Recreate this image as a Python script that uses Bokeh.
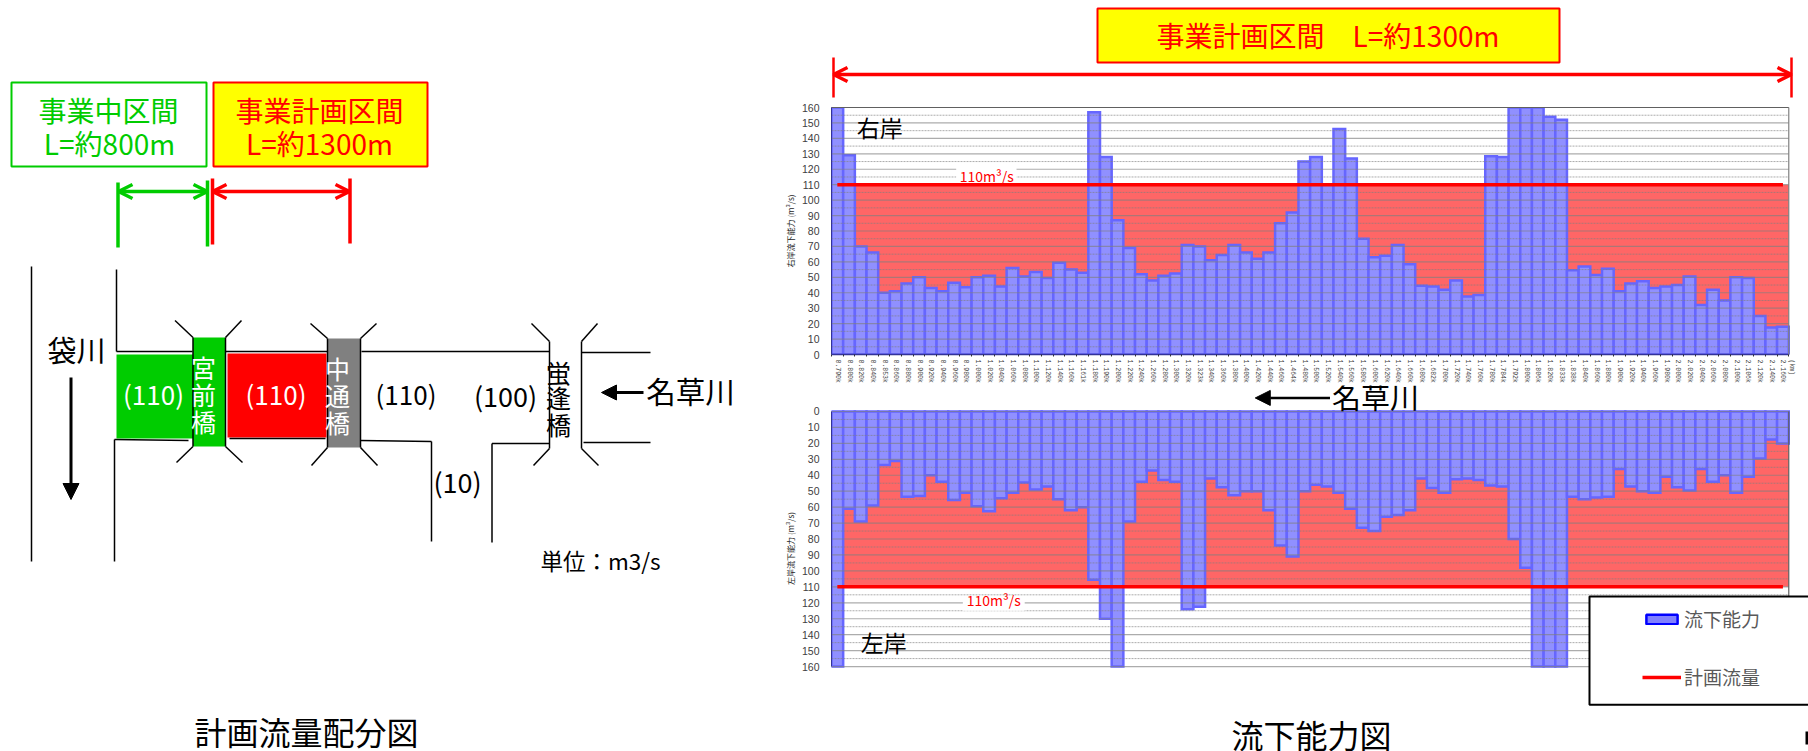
from bokeh.plotting import figure
from bokeh.layouts import row, column
from bokeh.models import (Range1d, FixedTicker, Label, Arrow, OpenHead, NormalHead,
                          BoxAnnotation, Legend, LegendItem)
from bokeh.core.properties import value
from bokeh.embed import file_html
from bokeh.resources import INLINE

# ---------- data ----------
km_labels = ["0.790k","0.800k","0.820k","0.840k","0.853k","0.860k","0.880k","0.900k","0.920k","0.940k",
             "0.960k","0.980k","1.000k","1.020k","1.040k","1.060k","1.080k","1.100k","1.120k","1.140k",
             "1.160k","1.161k","1.180k","1.190k","1.200k","1.220k","1.240k","1.260k","1.280k","1.300k",
             "1.320k","1.323k","1.340k","1.360k","1.380k","1.400k","1.420k","1.440k","1.460k","1.464k",
             "1.480k","1.500k","1.520k","1.540k","1.560k","1.580k","1.600k","1.620k","1.640k","1.660k",
             "1.680k","1.682k","1.700k","1.720k","1.740k","1.760k","1.780k","1.784k","1.792k","1.800k",
             "1.806k","1.820k","1.833k","1.838k","1.840k","1.860k","1.880k","1.900k","1.920k","1.940k",
             "1.960k","1.980k","2.000k","2.020k","2.040k","2.060k","2.080k","2.100k","2.106k","2.120k",
             "2.140k","2.160k"]
right_bank = [160,129,70,66,40,41,46,50,43,41,46.5,43.5,50,51,44,56,50.5,53.5,49.5,59.5,
              55,53,157,128,87,69,52,48,51,52.5,71,70,61,64.5,71,66,62,66,85,92,
              125,128,110,146,127,75,63,64,71,58.5,44.5,44,42,48,37.5,38.5,128.5,128,160,160,
              160,154,152,54.5,57,51.5,55.5,41,46,47.5,43,44,45,50.5,32,42,35,50,49.5,25,17.5,18]
left_bank = [160,61,69,59,33.5,31,53.5,53,40,44,55.5,51,59.5,62.5,54.5,51,44.5,49,47,55,
             62,60,105.5,130,160,69,44,37,43,44,124,122.5,42,47.5,52.5,50,50,62,84,91,
             50,46,47,51,61,73,75,66,65,62,42,48,51,42.5,42,43,46.5,47,80,98,
             160,160,160,53.5,55,54,53.5,36,47,50,51,41,47.5,49.5,36,44,40,51,41,29.5,17.5,20]
plan_flow = 110
y_tick_values = list(range(0, 161, 10))
y_minor_values = list(range(5, 160, 10))

FONT = value("Noto Sans CJK JP")
FONT_NAME = "Noto Sans CJK JP"
GREEN = "#00CC00"
RED = "#FF0000"
BAR_FILL = "#9090FF"
BAR_LINE = "#6666FF"
AREA = "#FF6666"

n = len(km_labels)
centers = [i + 0.5 for i in range(n)]
edges = list(range(n + 1))
X_END = 83.69          # the frames run on to the page edge; the bars stop at n


def sketch(x0, x1, y0, y1):
    """A figure whose frame fills it, with image pixels as coordinates."""
    p = figure(width=x1 - x0, height=y1 - y0, x_range=Range1d(x0, x1), y_range=Range1d(y1, y0),
               output_backend="svg", toolbar_location=None, x_axis_location=None,
               y_axis_location=None, min_border=0, outline_line_color=None, frame_align=False)
    p.grid.visible = False
    return p


def text(p, x, y, s, size, color="#000000", align="center"):
    p.text(x=[x], y=[y - 3], text=[s], text_font=FONT, text_font_size=f"{size}px", text_color=color,
           text_align=align, text_baseline="middle")


def lines(p, segs, width=1.5, color="#000000"):
    p.segment(x0=[s[0] for s in segs], y0=[s[1] for s in segs], x1=[s[2] for s in segs],
              y1=[s[3] for s in segs], line_width=width, line_color=color)


# ---------- left schematic ----------
L = sketch(0, 770, 0, 751)
L.quad(left=[11], right=[206], top=[82], bottom=[166], fill_color="#FFFFFF", line_color=GREEN, line_width=2)
L.quad(left=[213], right=[427], top=[82], bottom=[166], fill_color="#FFFF00", line_color=RED, line_width=2)
text(L, 108, 112, "事業中区間", 28, GREEN)
text(L, 109, 145, "L=約800m", 28, GREEN)
text(L, 319, 112, "事業計画区間", 28, RED)
text(L, 319, 145, "L=約1300m", 28, RED)

lines(L, [(117.5, 182, 117.5, 247), (207, 180, 207, 246)], 3.5, GREEN)
lines(L, [(212, 178, 212, 244), (349.5, 178, 349.5, 243)], 3.5, RED)
L.add_layout(Arrow(x_start=118, y_start=191, x_end=207, y_end=191, line_color=GREEN, line_width=3.5,
                   start=OpenHead(size=14, line_color=GREEN, line_width=3.5),
                   end=OpenHead(size=14, line_color=GREEN, line_width=3.5)))
L.add_layout(Arrow(x_start=212, y_start=191, x_end=349, y_end=191, line_color=RED, line_width=3.5,
                   start=OpenHead(size=14, line_color=RED, line_width=3.5),
                   end=OpenHead(size=14, line_color=RED, line_width=3.5)))

L.quad(left=[116], right=[193], top=[354], bottom=[438], fill_color=GREEN, line_color=None)
L.quad(left=[227], right=[326], top=[353], bottom=[437], fill_color=RED, line_color=None)
L.quad(left=[192.5], right=[225], top=[337], bottom=[446], fill_color=GREEN, line_color=None)
L.quad(left=[327], right=[360], top=[338], bottom=[447], fill_color="#808080", line_color=None)

lines(L, [
    (31, 266, 31, 561), (116, 269, 116, 351), (116, 351, 192, 351), (225, 351, 327, 351),
    (361, 351, 549, 351), (581, 352, 650, 352), (114, 439, 188, 440), (114, 439, 114, 561),
    (229, 438, 325, 438), (360, 440, 431, 441), (431, 441, 431, 541), (491.5, 443, 491.5, 542),
    (491.5, 443, 549, 443), (583, 442, 650, 442),
    (192.5, 337, 192.5, 446), (225, 337, 225, 446), (327, 338, 327, 447), (360, 338, 360, 447),
    (549, 341, 549, 448), (581, 341, 581, 448),
    (174.5, 320, 192.5, 337), (241, 320, 225, 337), (192.5, 446, 176, 462), (225, 446, 242, 462),
    (310, 323, 327, 338), (376, 323, 360, 338), (327, 447, 311, 465), (360, 447, 377, 465),
    (531, 323, 549, 341), (597, 323, 581, 341), (549, 448, 533, 465), (581, 448, 598, 465),
], 1.5)

for ch, yy in zip("宮前橋", (369, 396, 423)):
    text(L, 203, yy, ch, 25, "#FFFFFF")
for ch, yy in zip("中通橋", (370, 397, 424)):
    text(L, 337, yy, ch, 25, "#FFFFFF")
for ch, yy in zip("蛍逢橋", (374, 399, 426)):
    text(L, 558, yy, ch, 25, "#000000")

text(L, 153, 396, "(110)", 26, "#FFFFFF")
text(L, 275.5, 396, "(110)", 26, "#FFFFFF")
text(L, 405.5, 396, "(110)", 26)
text(L, 505, 398, "(100)", 27)
text(L, 457, 484, "(10)", 27)
text(L, 76, 351, "袋川", 29)
text(L, 690, 392, "名草川", 29.5)
text(L, 600, 562, "単位：m3/s", 22.5)
text(L, 306, 733, "計画流量配分図", 32)
L.add_layout(Arrow(x_start=70.5, y_start=377, x_end=70.5, y_end=499, line_color="#000000", line_width=3,
                   end=NormalHead(size=16, fill_color="#000000", line_color="#000000")))
L.add_layout(Arrow(x_start=643, y_start=392, x_end=601, y_end=392, line_color="#000000", line_width=3,
                   end=NormalHead(size=15, fill_color="#000000", line_color="#000000")))

# ---------- right: heading ----------
T = sketch(770, 1808, 0, 100)
T.quad(left=[1097], right=[1559], top=[8], bottom=[62], fill_color="#FFFF00", line_color=RED, line_width=2)
text(T, 1327.5, 37, "事業計画区間\u3000L=約1300m", 28, RED)
lines(T, [(833, 57, 833, 97), (1791, 57, 1791, 97)], 2.5, RED)
T.add_layout(Arrow(x_start=833, y_start=74, x_end=1791, y_end=74, line_color=RED, line_width=3.5,
                   start=OpenHead(size=14, line_color=RED, line_width=3.5),
                   end=OpenHead(size=14, line_color=RED, line_width=3.5)))


# ---------- right: the two charts ----------
def chart(values, y_range, height, top_border, bottom_border, x_axis, y_label):
    p = figure(width=1038, height=height, x_range=Range1d(0, X_END), y_range=y_range,
               output_backend="svg", toolbar_location=None,
               x_axis_location="below" if x_axis else None, frame_align=False,
               min_border_left=61, min_border_right=0, min_border_top=top_border,
               min_border_bottom=bottom_border, outline_line_color=None)
    p.quad(left=[0], right=[n], bottom=[0], top=[plan_flow], fill_color=AREA, line_color=None)
    bars = p.vbar(x=centers, top=values, bottom=0, width=1, fill_color=BAR_FILL, line_color=BAR_LINE,
                  line_width=2.5, line_join="miter")
    line = p.line(x=centers, y=[plan_flow] * n, line_color=RED, line_width=3.5, level="overlay")

    p.grid.visible = False
    p.segment(x0=0, x1=n, y0=y_tick_values, y1=y_tick_values, line_color="#808080", line_alpha=0.65,
              line_width=1.2, level="guide")
    p.segment(x0=0, x1=n, y0=y_minor_values, y1=y_minor_values, line_color="#808080", line_alpha=0.65,
              line_dash="2 1", line_width=1, level="guide")

    ax = p.yaxis[0]
    ax.bounds = (0, 160)
    ax.ticker = FixedTicker(ticks=y_tick_values, minor_ticks=y_minor_values)
    ax.major_tick_line_color = None
    ax.major_tick_out = 0
    ax.minor_tick_line_color = None
    ax.axis_line_color = "#333399"
    ax.major_label_standoff = 8
    ax.major_label_text_font = "Liberation Sans"
    ax.major_label_text_font_size = "10.5px"
    ax.major_label_text_color = "#404040"
    ax.axis_label = y_label
    ax.axis_label_text_font = FONT_NAME
    ax.axis_label_text_font_size = "8px"
    ax.axis_label_text_font_style = "normal"
    ax.axis_label_text_color = "#262626"
    ax.axis_label_standoff = 3
    if x_axis:
        xa = p.xaxis[0]
        km_tick = 82.2
        xa.ticker = FixedTicker(ticks=centers + [km_tick], minor_ticks=edges)
        xa.major_label_overrides = {**dict(zip(centers, km_labels)), km_tick: "(km)\u00a0\u00a0"}
        xa.major_label_orientation = "vertical"
        xa.major_label_text_font = "Liberation Mono"
        xa.major_label_text_font_size = "6.5px"
        xa.major_label_text_color = "#404040"
        xa.major_label_standoff = 3
        xa.major_tick_line_color = None
        xa.major_tick_out = 0
        xa.minor_tick_line_color = "#333333"
        xa.minor_tick_in = 0
        xa.minor_tick_out = 2
        xa.axis_line_color = None
        p.segment(x0=0, x1=n, y0=0, y1=0, line_color="#333399", line_width=1.5, level="guide")
        p.segment(x0=0, x1=n, y0=160, y1=160, line_color="#606060", line_width=1.2, level="guide")
    return p, bars, line


def note(p, x, y, s, size, color="#000000", **kw):
    p.add_layout(Label(x=x, y=y, text=s, text_font=FONT_NAME, text_font_size=f"{size}px", text_color=color,
                       text_align="center", text_baseline="middle", **kw))


U, _, _ = chart(right_bank, Range1d(0, 160), 285, 7, 28, True, "右岸流下能力 (m³/s)")
U.segment(x0=n, x1=n, y0=0, y1=160, line_color="#808080", line_width=1.2, level="guide")
note(U, 4.13, 147.3, "右岸", 23)
U.add_layout(BoxAnnotation(left=10.68, right=15.85, bottom=111, top=123, fill_color="#FFFFFF", fill_alpha=1,
                           line_color=None))
note(U, 13.3, 115.4, "110m³/s", 14, RED)

D, d_bars, d_line = chart(left_bank, Range1d(188.2, -16.31), 326, 0, 0, False, "左岸流下能力 (m³/s)")
D.segment(x0=n, x1=n, y0=0, y1=116, line_color="#606060", line_width=1.2, level="guide")
note(D, 4.47, 144.9, "左岸", 23)
D.add_layout(BoxAnnotation(left=11.25, right=16.55, top=116.5, bottom=125, fill_color="#FFFFFF", fill_alpha=1,
                           line_color=None))
note(D, 13.9, 118, "110m³/s", 14, RED)
note(D, 46.6, -9.8, "名草川", 29)
D.add_layout(Arrow(x_start=42.7, y_start=-8.5, x_end=36.3, y_end=-8.5, line_color="#000000", line_width=2.5,
                   end=NormalHead(size=15, fill_color="#000000", line_color="#000000")))
D.add_layout(BoxAnnotation(left=64.93, right=85.5, top=116, bottom=184, fill_color="#FFFFFF", fill_alpha=1,
                           line_color="#000000", line_width=2, line_alpha=1))
nan = float("nan")
legend_bar = D.quad(left=[nan], right=[nan], top=[nan], bottom=[nan], fill_color="#8080FF", line_color="#0000FF",
                    line_width=2.5)
D.add_layout(Legend(items=[LegendItem(label="流下能力", renderers=[legend_bar]),
                           LegendItem(label="計画流量", renderers=[d_line])],
                    location=(811, 21), padding=14, margin=0, spacing=31, glyph_width=39, glyph_height=12,
                    label_height=24, label_standoff=3, label_text_font=FONT_NAME, label_text_font_size="19px",
                    label_text_color="#595959", border_line_color=None, background_fill_alpha=0))

C = sketch(770, 1808, 711, 751)
text(C, 1311, 736, "流下能力図", 32)
C.quad(left=[1805], right=[1808], top=[731], bottom=[744], fill_color="#000000", line_color=None)

layout = row(L, column(T, U, D, C, spacing=0), spacing=0)
open("out.html", "w").write(file_html(layout, INLINE))
